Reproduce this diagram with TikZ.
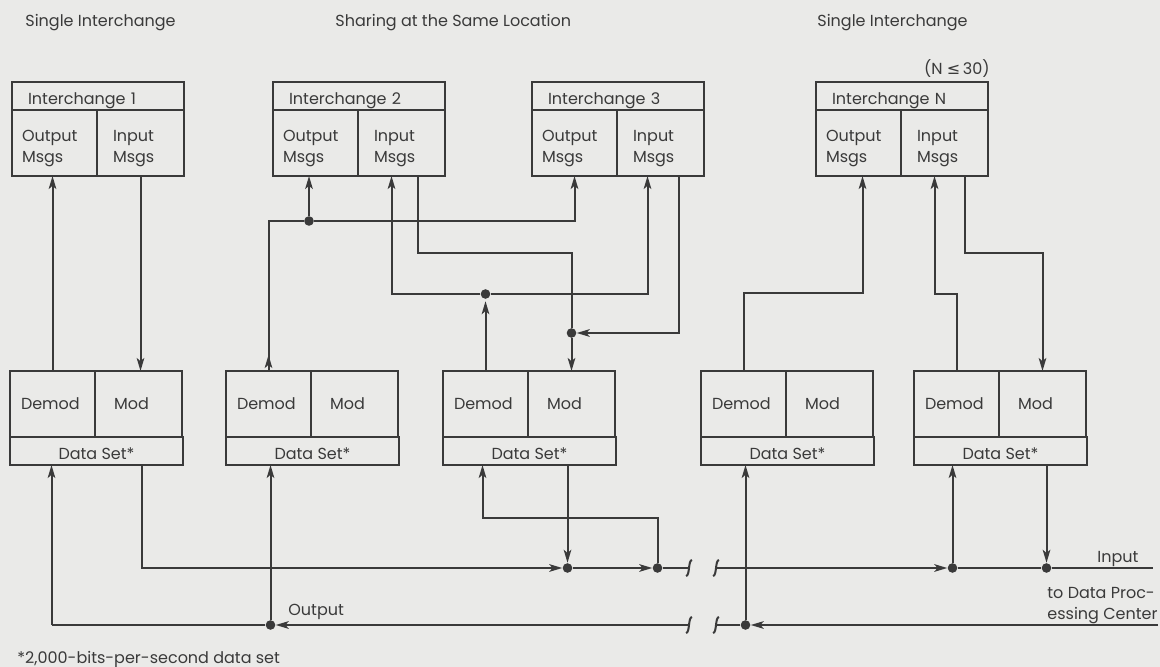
\documentclass[tikz,border=0pt]{standalone}
\usepackage{fontspec}
\setmainfont{Poppins}
\newfontfamily\symfont{DejaVu Sans}
\usetikzlibrary{positioning,arrows.meta,calc}
\definecolor{ink}{RGB}{58,58,58}
\definecolor{paper}{RGB}{234,234,232}

\begin{document}
\begin{tikzpicture}[x=0.5pt,y=-0.5pt,
every node/.style={font=\fontsize{8}{10.5}\selectfont,text=ink},
cell/.style={draw=ink,line width=1pt,outer sep=0pt,inner ysep=0pt,align=left},
ttl/.style={cell,minimum height=14pt,text width=70pt,inner xsep=8pt,text height=8.5pt,text depth=0pt},
outc/.style={cell,minimum height=33pt,text width=32.5pt,inner xsep=5pt,text height=11.6pt},
inc/.style={cell,minimum height=33pt,text width=27.5pt,inner xsep=8pt,text height=11.6pt},
dem/.style={cell,minimum height=33pt,text width=31.5pt,inner xsep=5.5pt,text height=6pt,text depth=0pt},
modc/.style={cell,minimum height=33pt,text width=24.5pt,inner xsep=9.5pt,text height=6pt,text depth=0pt},
dset/.style={cell,minimum height=14pt,minimum width=86.5pt,inner xsep=0pt,align=center,text height=8pt,text depth=0pt},
lbl/.style={anchor=base west,inner sep=0pt},
wire/.style={line width=1pt,draw=ink},
arrow/.style={-{Stealth[length=6.5pt,width=3.8pt,inset=1.6pt]},line width=1pt,draw=ink},
dot/.style={circle,fill=ink,inner sep=0pt,minimum size=4.8pt}
]
\fill[paper] (0,0) rectangle (1160,667);
\useasboundingbox (0,0) rectangle (1160,667);

\node[lbl] (tl) at (25,27) {Single Interchange};
\node[lbl] (tm) at (335,27) {Sharing at the Same Location};
\node[lbl] (tr) at (817,27) {Single Interchange};

\foreach \n/\x/\t in {a/12/1,b/273/2,c/532/3,n/816/N}{
\node[ttl,anchor=north west] (i\n t) at (\x,82) {Interchange \t};
\node[outc,below right=0pt and 0pt of i\n t.south west] (i\n o) {Output\\Msgs};
\node[inc,right=0pt of i\n o] (i\n i) {Input\\Msgs};
}
\node[anchor=base east,inner sep=0pt] (nmax) at (990,75) {(N {\symfont ≤}\,30)};

\foreach \n/\x in {a/10,b/226,c/443,d/701,e/914}{
\node[dem,anchor=north west] (m\n d) at (\x,371) {Demod};
\node[modc,right=0pt of m\n d] (m\n m) {Mod};
\node[dset,below right=0pt and 0pt of m\n d.south west] (m\n s) {Data Set*};
}

\coordinate (inb) at (0,568); \coordinate (outb) at (0,625);
\coordinate (bl) at (689,0); \coordinate (br) at (716,0);
\coordinate (inend) at (1153,568); \coordinate (outend) at (1158,625);
\coordinate (ma1) at ($(mas.south)+(-45,0)$); \coordinate (ma2) at ($(mas.south)+(45,0)$);
\coordinate (mb1) at ($(mbs.south)+(-42,0)$);
\coordinate (mc1) at ($(mcs.south)+(-47,0)$); \coordinate (mc2) at ($(mcs.south)+(38,0)$);
\coordinate (md1) at ($(mds.south)+(-42,0)$);
\coordinate (me1) at ($(mes.south)+(-48,0)$); \coordinate (me2) at ($(mes.south)+(46,0)$);

\node[dot] (o270) at (mb1 |- outb) {};
\node[dot] (o745) at (md1 |- outb) {};
\node[dot] (i567) at (mc2 |- inb) {};
\node[dot] (i658) at ($(mcs.south |- inb)+(128,0)$) {};
\node[dot] (i952) at (me1 |- inb) {};
\node[dot] (i1047) at (me2 |- inb) {};
\node[dot] (t309) at (309,221) {};
\node[dot] (t486) at (mcd.north |- 0,294) {};
\node[dot] (t572) at (mcm.north |- 0,333) {};

\draw[arrow] (mad.north) -- (mad.north |- iao.south);
\draw[arrow] (iai.south) -- (iai.south |- mam.north);

\draw[wire] (mbd.north) |- (t309); \draw[arrow] (mbd.north) -- ++(0,-16);
\draw[arrow] (t309) -- (t309 |- ibo.south); \draw[arrow] (t309) -| (ico.south);
\draw[arrow,shorten >=1pt] (mcd.north) -- (t486);
\draw[arrow] (t486) -| ($(ibi.south)+(-10,0)$); \draw[arrow] (t486) -| ($(ici.south)+(-13,0)$);
\draw[wire] ($(ibi.south)+(16,0)$) -- ++(0,77) -| (t572);
\draw[arrow] ($(ici.south)+(18,0)$) |- (t572); \draw[arrow] (t572) -- (mcm.north);

\draw[arrow] (mdd.north) -- ++(0,-78) -| ($(ino.south)+(4,0)$);
\draw[arrow] (med.north) -- ++(0,-77) -| ($(ini.south)+(-10,0)$);
\draw[arrow] ($(ini.south)+(20,0)$) -- ++(0,77) -| (mem.north);

\draw[arrow] (ma1 |- outb) -- (ma1);
\draw[arrow] (ma2) -- (ma2 |- inb) -- (i567);
\draw[arrow] (i567) -- (i658); \draw[wire] (i658) -- (bl |- inb);
\draw[arrow] (br |- inb) -- (i952); \draw[wire] (i952) -- (i1047) -- (inend);
\draw[arrow] (o270) -- (mb1); \draw[arrow] (o745) -- (md1);
\draw[arrow] (mc2) -- (i567); \draw[arrow] (i658) -- ++(0,-50) -| (mc1);
\draw[arrow] (i952) -- (me1); \draw[arrow] (me2) -- (i1047);
\draw[arrow] (outend) -- (o745); \draw[wire] (o745) -- (br |- outb);
\draw[arrow] (bl |- outb) -- (o270); \draw[wire] (o270) -- (ma1 |- outb);
\foreach \y in {568,625} \foreach \x in {689,716}
\draw[wire] (\x-3,\y+8) .. controls (\x+1,\y+8) and (\x-1,\y-8) .. (\x+3,\y-8);

\node[lbl] (outl) at (288,615) {Output};
\node[lbl] (inl) at (1097,562) {Input};
\node[lbl,align=left] (dpc) at (1047,619) {to Data Proc-\\essing Center};
\node[lbl] (fn) at (17,663) {*2,000-bits-per-second data set};
\end{tikzpicture}
\end{document}
